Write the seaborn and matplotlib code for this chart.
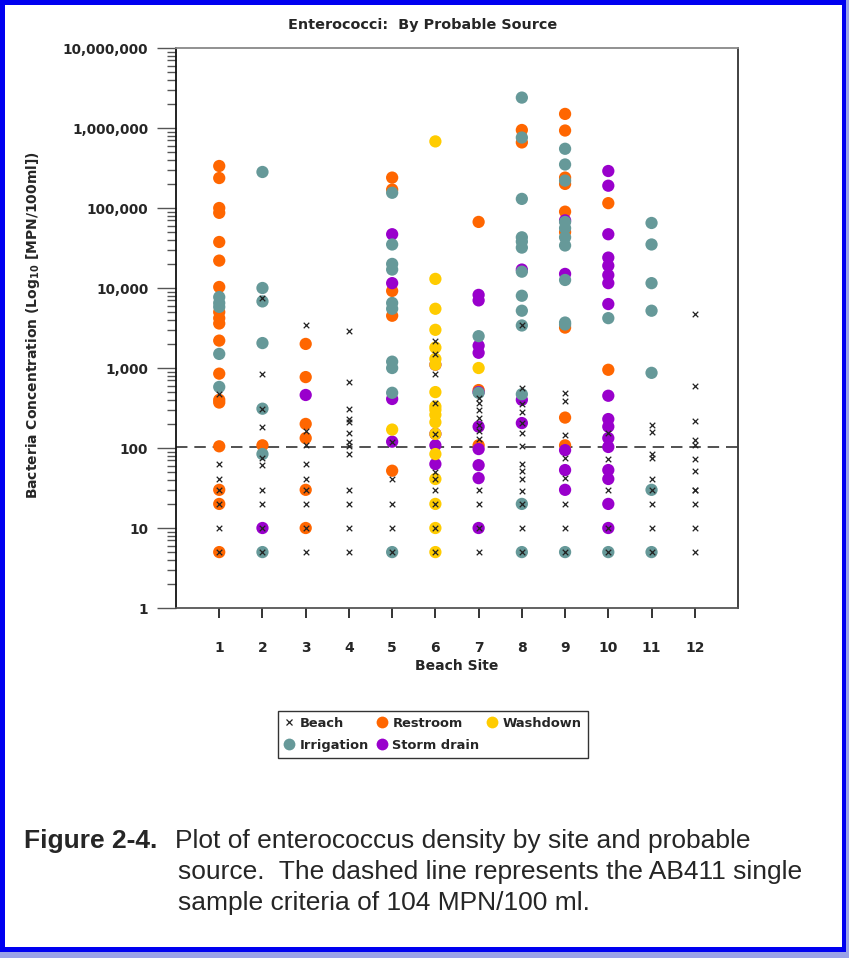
import matplotlib
matplotlib.use("Agg")
import matplotlib.pyplot as plt
import matplotlib.ticker as mticker
from matplotlib.patches import Rectangle
from matplotlib.lines import Line2D
import seaborn as sns
import pandas as pd

# ---------------- data ----------------
beach_site = ([1]*7 + [2]*10 + [3]*9 + [4]*13 + [5]*5 + [6]*11 + [7]*11 +
              [8]*14 + [9]*8 + [10]*5 + [11]*9 + [12]*12)
beach_val = ([470, 63, 41, 30, 20, 10, 5] +
             [7500, 850, 310, 183, 75, 61, 30, 20, 10, 5] +
             [3400, 163, 108, 63, 41, 30, 20, 10, 5] +
             [2900, 670, 310, 230, 210, 155, 120, 106, 84, 30, 20, 10, 5] +
             [120, 41, 20, 10, 5] +
             [2200, 1500, 850, 370, 150, 50, 41, 30, 20, 10, 5] +
             [420, 370, 300, 240, 195, 165, 130, 30, 20, 10, 5] +
             [3400, 560, 350, 280, 205, 155, 106, 63, 52, 41, 29, 20, 10, 5] +
             [490, 390, 145, 75, 42, 20, 10, 5] +
             [155, 73, 30, 10, 5] +
             [195, 160, 84, 75, 41, 30, 20, 10, 5] +
             [4800, 600, 220, 125, 110, 73, 52, 30, 30, 20, 10, 5])

restroom_site = ([1]*18 + [2]*1 + [3]*6 + [5]*5 + [7]*3 + [8]*2 + [9]*9 + [10]*2)
restroom_val = ([335000, 237000, 100000, 87000, 37600, 22000, 10300, 5000, 4200,
                 3600, 2200, 850, 400, 370, 105, 30, 20, 5] +
                [108] +
                [2000, 770, 200, 133, 30, 10] +
                [240000, 170000, 9200, 4500, 52] +
                [67000, 530, 108] +
                [944000, 660000] +
                [1500000, 930000, 240000, 200000, 90000, 50000, 3200, 240, 108] +
                [115000, 950])

irrigation_site = ([1]*5 + [2]*7 + [5]*10 + [7]*2 + [8]*13 + [9]*11 + [10]*2 + [11]*7)
irrigation_val = ([7700, 6500, 5800, 1500, 580] +
                  [282000, 10000, 6800, 2050, 310, 84, 5] +
                  [155000, 35000, 20000, 17000, 6500, 5500, 1200, 1000, 490, 5] +
                  [2500, 490] +
                  [2400000, 760000, 130000, 43000, 38000, 32000, 16000, 8000, 5200,
                   3400, 470, 20, 5] +
                  [550000, 350000, 220000, 67000, 56000, 43000, 34000, 12600, 3700,
                   3500, 5] +
                  [4200, 5] +
                  [65000, 35000, 11500, 5200, 870, 30, 5])

storm_site = ([2]*1 + [3]*1 + [5]*4 + [6]*4 + [7]*10 + [8]*3 + [9]*5 + [10]*17)
storm_val = ([10] + [460] + [47000, 11500, 410, 120] + [1100, 150, 108, 63] +
             [8200, 7000, 1900, 1550, 500, 185, 97, 61, 42, 10] +
             [17000, 400, 205] +
             [70000, 15000, 94, 53, 30] +
             [290000, 190000, 47000, 24000, 19000, 14500, 11500, 6300, 450, 230,
              185, 133, 103, 53, 41, 20, 10])

washdown_site = [5] + [6]*18 + [7]
washdown_val = ([170] +
                [680000, 13000, 5500, 3000, 1800, 1300, 1100, 500, 330, 300, 260,
                 210, 150, 84, 41, 20, 10, 5] +
                [1000])

site_ticks = list(range(1, 13))
y_ticks = [1, 10, 100, 1000, 10000, 100000, 1000000, 10000000]
criterion = 104

# ---------------- styling ----------------
sns.set_style("white")
plt.rcParams['font.family'] = ['DejaVu Sans']

C_REST = '#FF6600'
C_IRR = '#669999'
C_STORM = '#9900CC'
C_WASH = '#FFCC00'

fig = plt.figure(figsize=(8.49, 9.58), dpi=100)
W, H = 849, 958
ax = fig.add_axes([176 / W, 1 - 608 / H, (738 - 176) / W, (608 - 48) / H])

dot_s = 78


def plot_src(site, val, color, label, z):
    df = pd.DataFrame({'site': site, 'val': val})
    sns.scatterplot(data=df, x='site', y='val', color=color, s=dot_s,
                    edgecolor='none', linewidth=0, ax=ax, label=label,
                    zorder=z, legend=False)


plot_src(restroom_site, restroom_val, C_REST, 'Restroom', 3)
plot_src(storm_site, storm_val, C_STORM, 'Storm drain', 4)
plot_src(washdown_site, washdown_val, C_WASH, 'Washdown', 5)
plot_src(irrigation_site, irrigation_val, C_IRR, 'Irrigation', 6)
df_b = pd.DataFrame({'site': beach_site, 'val': beach_val})
sns.scatterplot(data=df_b, x='site', y='val', marker='x', color='#222222',
                s=16, linewidth=0.9, ax=ax, zorder=7, legend=False)

ax.axhline(criterion, color='#222222', lw=1.1, ls=(0, (7.5, 4.5)), zorder=2)

ax.set_yscale('log')
ax.set_ylim(1, 1e7)
ax.set_xlim(0, 13)
ax.set_xticks(site_ticks)
ax.set_xticklabels([str(s) for s in site_ticks], fontweight='bold', fontsize=10)
ax.set_yticks(y_ticks)
ax.yaxis.set_major_formatter(mticker.FuncFormatter(lambda v, p: f"{int(round(v)):,}"))
ax.yaxis.set_minor_locator(mticker.LogLocator(base=10, subs=range(2, 10), numticks=20))
ax.yaxis.set_minor_formatter(mticker.NullFormatter())
for lab in ax.get_yticklabels():
    lab.set_fontweight('bold')
    lab.set_fontsize(9.8)

ax.tick_params(axis='y', which='major', direction='out', length=14, width=1,
               color='#555555', pad=6, left=True)
ax.tick_params(axis='y', which='minor', direction='out', length=6.5, width=1,
               color='#555555', left=True)
ax.tick_params(axis='x', which='major', direction='out', length=7.5, width=1.2,
               color='#111111', pad=16, bottom=True)
ax.tick_params(axis='x', which='minor', bottom=False)

for side in ['left', 'right', 'top', 'bottom']:
    ax.spines[side].set_visible(True)
    ax.spines[side].set_linewidth(1.3)
ax.spines['left'].set_color('#111111')
ax.spines['bottom'].set_color('#555555')
ax.spines['top'].set_color('#888888')
ax.spines['right'].set_color('#333333')

ax.set_xlabel('Beach Site', fontweight='bold', fontsize=10, labelpad=3)
ax.set_ylabel('')
fig.text(33 / W, 1 - 325 / H, r'Bacteria Concentration (Log$_{\mathbf{10}}$ [MPN/100ml])',
         rotation=90, ha='center', va='center', fontweight='bold', fontsize=10)
fig.text(423 / W, 1 - 25 / H, 'Enterococci:  By Probable Source',
         ha='center', va='center', fontweight='bold', fontsize=10.4)

# legend
handles = [
    Line2D([], [], marker='x', ls='none', color='#222222', markersize=4.5, mew=0.9),
    Line2D([], [], marker='o', ls='none', color=C_IRR, markersize=8.5, mec='none'),
    Line2D([], [], marker='o', ls='none', color=C_REST, markersize=8.5, mec='none'),
    Line2D([], [], marker='o', ls='none', color=C_STORM, markersize=8.5, mec='none'),
    Line2D([], [], marker='o', ls='none', color=C_WASH, markersize=8.5, mec='none'),
]
labels = ['Beach', 'Irrigation', 'Restroom', 'Storm drain', 'Washdown']
leg = fig.legend(handles, labels, ncol=3, loc='upper left',
                 bbox_to_anchor=(278 / W, 1 - 711 / H),
                 frameon=True, fancybox=False, borderaxespad=0,
                 prop={'weight': 'bold', 'size': 9.4}, handlelength=0.75,
                 handletextpad=0.45, columnspacing=0.6, labelspacing=0.7,
                 borderpad=0.45)
leg.get_frame().set_edgecolor('black')
leg.get_frame().set_linewidth(1.0)

# caption
cap_font = ['Liberation Sans', 'DejaVu Sans']
fig.text(24 / W, 1 - 841 / H, 'Figure 2-4.', fontweight='bold', fontsize=19,
         family=cap_font, ha='left', va='center')
fig.text(175 / W, 1 - 841 / H, 'Plot of enterococcus density by site and probable',
         fontsize=19, family=cap_font, ha='left', va='center')
fig.text(178 / W, 1 - 872 / H, 'source.  The dashed line represents the AB411 single',
         fontsize=19, family=cap_font, ha='left', va='center')
fig.text(178 / W, 1 - 903 / H, 'sample criteria of 104 MPN/100 ml.',
         fontsize=19, family=cap_font, ha='left', va='center')

# page border
BLUE = '#0000F0'
PAT = '#9aa2e8'


def frect(x0, y0_top, x1, y1_top, color):
    fig.patches.append(Rectangle((x0 / W, 1 - y1_top / H), (x1 - x0) / W,
                                 (y1_top - y0_top) / H, transform=fig.transFigure,
                                 facecolor=color, edgecolor='none', zorder=10))


frect(0, 952, W, H, PAT)
frect(846, 0, W, H, PAT)
frect(0, 0, 5, 952, BLUE)
frect(0, 0, 846, 5, BLUE)
frect(842, 0, 846, 952, BLUE)
frect(0, 947, 846, 952, BLUE)

fig.savefig('out.png', dpi=100)
